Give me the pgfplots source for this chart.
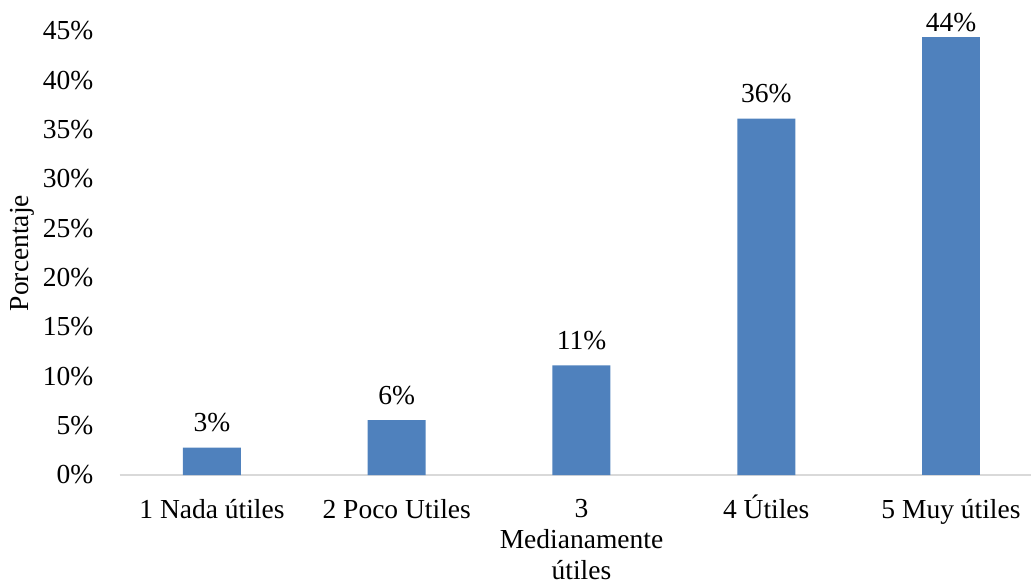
\documentclass[border=0pt]{standalone}
\usepackage{pgfplots}
\pgfplotsset{compat=1.18}
\usepackage{fontspec}
\setmainfont{Liberation Serif}
\definecolor{barblue}{HTML}{4F81BD}
\definecolor{axisgray}{HTML}{D9D9D9}
\begin{document}
\begin{tikzpicture}
\begin{axis}[
  font=\fontsize{11}{12.4}\selectfont,
  /pgf/number format/assume math mode=true,
  scale only axis,
  width=364.56pt, height=177.6pt,
  ybar, bar width=23.2pt, bar shift=0pt,
  xmin=-0.5, xmax=4.433,
  ymin=0, ymax=45,
  ytick={0,5,...,45},
  yticklabel={\pgfmathprintnumber{\tick}\%},
  yticklabel style={xshift=-7pt},
  xtick={0,1,2,3,4},
  xticklabels={1 Nada útiles,2 Poco Utiles,{3\\Medianamente\\útiles},4 \smash{Ú}tiles,5 Muy útiles},
  xticklabel style={align=center, yshift=-6.3pt},
  major tick length=0pt,
  axis x line*=bottom,
  axis y line*=left,
  y axis line style={draw=none},
  x axis line style={draw=axisgray, line width=0.8pt, -},
  ylabel={Porcentaje},
  ylabel style={at={(axis description cs:0,0.5)}, anchor=center, yshift=39pt},
  nodes near coords={\pgfmathprintnumber[fixed,precision=0]{\pgfplotspointmeta}\%},
  nodes near coords style={yshift=2.7pt},
  clip=false,
]
\addplot[fill=barblue, draw=none] coordinates {(0,2.78) (1,5.56) (2,11.11) (3,36.11)};
\addplot[fill=barblue, draw=none, nodes near coords style={yshift=-4.4pt}] coordinates {(4,44.44)};
\end{axis}
\pgfresetboundingbox
\path[use as bounding box] ([shift={(-47.84pt,-43.6pt)}]current axis.south west) rectangle ([shift={(364.56pt,190pt)}]current axis.south west);
\end{tikzpicture}
\end{document}
